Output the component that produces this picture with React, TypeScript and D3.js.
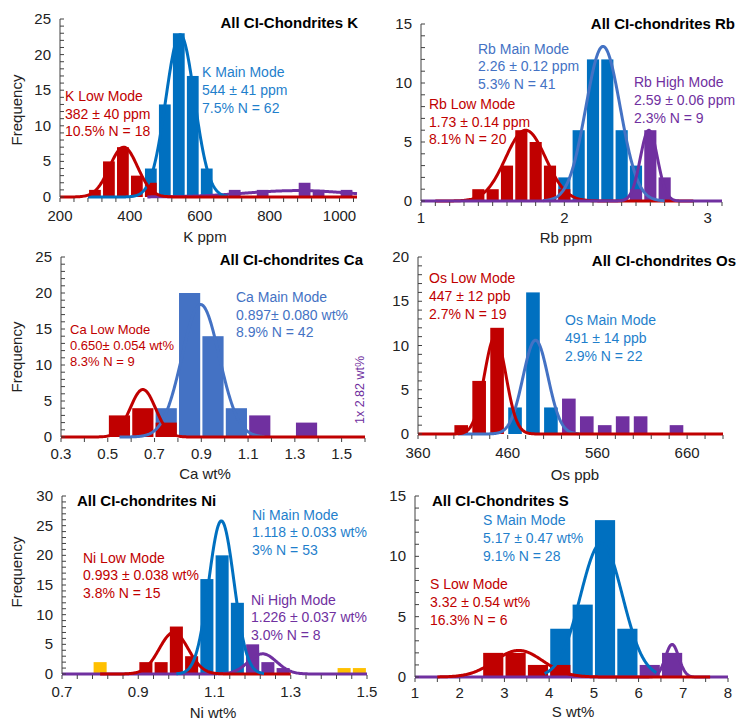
import React from 'react';
import * as d3 from 'd3';

const RED = '#C00000';
const BLUE = '#0070C0';
const LBLUE = '#4472C4';
const PURPLE = '#7030A0';
const YELLOW = '#FFC000';

// ---------- K ----------
const kBin = 40;
const kLowBars = [[280, 1], [320, 5], [360, 7], [400, 3], [440, 2]];
const kMainBars = [[440, 4], [480, 13], [520, 23], [560, 17], [600, 4]];
const kHighBars = [[680, 1], [760, 1], [880, 2], [920, 1], [1000, 1]];
const kXTicks = [200, 400, 600, 800, 1000];
const kYTicks = [0, 5, 10, 15, 20, 25];
const kLowLabel = ['K Low Mode', '382 ± 40 ppm', '10.5% N = 18'];
const kMainLabel = ['K Main Mode', '544 ± 41 ppm', '7.5% N = 62'];

// ---------- Rb ----------
const rbBin = 0.1;
const rbLowBars = [[1.35, 1], [1.45, 1], [1.55, 3], [1.65, 6], [1.75, 5], [1.85, 3], [1.95, 1]];
const rbMainBars = [[1.95, 2], [2.05, 6], [2.15, 12], [2.25, 12], [2.35, 6], [2.45, 3]];
const rbHighBars = [[2.45, 1], [2.55, 6], [2.65, 2]];
const rbXTicks = [1, 2, 3];
const rbYTicks = [0, 5, 10, 15];
const rbLowLabel = ['Rb Low Mode', '1.73 ± 0.14 ppm', '8.1% N = 20'];
const rbMainLabel = ['Rb Main Mode', '2.26 ± 0.12 ppm', '5.3% N = 41'];
const rbHighLabel = ['Rb High Mode', '2.59 ± 0.06 ppm', '2.3% N = 9'];

// ---------- Ca ----------
const caBin = 0.1;
const caLowBars = [[0.5, 3], [0.6, 4], [0.7, 2]];
const caMainBars = [[0.7, 4], [0.8, 20], [0.9, 14], [1.0, 4]];
const caHighBars = [[1.1, 3], [1.3, 2]];
const caXTicks = [0.3, 0.5, 0.7, 0.9, 1.1, 1.3, 1.5];
const caYTicks = [0, 5, 10, 15, 20, 25];
const caLowLabel = ['Ca Low Mode', '0.650± 0.054 wt%', '8.3% N = 9'];
const caMainLabel = ['Ca Main Mode', '0.897± 0.080 wt%', '8.9% N = 42'];
const caOutlierLabel = '1x 2.82 wt%';

// ---------- Os ----------
const osBin = 20;
const osLowBars = [[400, 1], [420, 6], [440, 12]];
const osMainBars = [[460, 3], [480, 16], [500, 3]];
const osHighBars = [[520, 4], [540, 2], [560, 1], [580, 2], [600, 2], [640, 1]];
const osXTicks = [360, 460, 560, 660];
const osYTicks = [0, 5, 10, 15, 20];
const osLowLabel = ['Os Low Mode', '447 ± 12 ppb', '2.7% N = 19'];
const osMainLabel = ['Os Main Mode', '491 ± 14 ppb', '2.9% N = 22'];

// ---------- Ni ----------
const niBin = 0.04;
const niOutBars = [[0.78, 2], [1.42, 1], [1.46, 1]];
const niLowBars = [[0.90, 2], [0.94, 2], [0.98, 8], [1.02, 3]];
const niMainBars = [[1.06, 16], [1.10, 20], [1.14, 12], [1.18, 4]];
const niHighBars = [[1.18, 5], [1.22, 2], [1.26, 1]];
const niXTicks = [0.7, 0.9, 1.1, 1.3, 1.5];
const niYTicks = [0, 5, 10, 15, 20, 25, 30];
const niLowLabel = ['Ni Low Mode', '0.993 ± 0.038 wt%', '3.8% N = 15'];
const niMainLabel = ['Ni Main Mode', '1.118 ± 0.033 wt%', '3% N = 53'];
const niHighLabel = ['Ni High Mode', '1.226 ± 0.037 wt%', '3.0% N = 8'];

// ---------- S ----------
const sBin = 0.5;
const sLowBars = [[2.5, 2], [3.0, 2], [3.5, 1], [4.0, 1]];
const sMainBars = [[4.0, 4], [4.5, 6], [5.0, 13], [5.5, 4]];
const sHighBars = [[6.0, 1], [6.5, 2]];
const sXTicks = [1, 2, 3, 4, 5, 6, 7, 8];
const sYTicks = [0, 5, 10, 15];
const sLowLabel = ['S Low Mode', '3.32 ± 0.54 wt%', '16.3% N = 6'];
const sMainLabel = ['S Main Mode', '5.17 ± 0.47 wt%', '9.1% N = 28'];

// Fitted normal curves: [mean, sd, peak height, from, to]
const kCurves = { low: [382, 40, 7.0, 200, 1050], main: [544, 41, 22.8, 280, 680], high: [880, 150, 0.9, 450, 1050] };
const rbCurves = { low: [1.73, 0.14, 6.0, 1.1, 2.9], main: [2.27, 0.12, 13.1, 1.85, 2.7], high: [2.59, 0.06, 6.0, 1.0, 3.1] };
const caCurves = { low: [0.65, 0.054, 6.6, 0.3, 1.6], main: [0.897, 0.08, 18.4, 0.55, 1.17] };
const osCurves = { low: [446, 12, 11.0, 360, 700], main: [491, 14, 10.6, 405, 540] };
const niCurves = { low: [0.993, 0.038, 7.0, 0.8, 1.3], main: [1.118, 0.033, 25.8, 1.0, 1.23], high: [1.226, 0.037, 3.4, 0.7, 1.5] };
const sCurves = { low: [3.32, 0.54, 2.2, 1.5, 7.6], main: [5.17, 0.47, 11.1, 3.9, 6.4], high: [6.75, 0.15, 2.7, 1.0, 8.0] };

const FONT = '"Liberation Sans", Arial, Helvetica, sans-serif';

type Bars = { data: number[][]; color: string };
type Curve = { p: number[]; color: string };
type Label = { lines: string[]; color: string; x: number; y: number; size: number; lh: number };

interface Cfg {
  xDomain: [number, number];
  xRange: [number, number];
  yMax: number;
  yBase: number;
  yTop: number;
  bin: number;
  barFrac?: number;
  tickOff: number;
  xTicks: number[];
  yTicks: number[];
  fmt: (v: number) => string;
  minorX: number;
  bars: Bars[];
  curves: Curve[];
  labels: Label[];
  title: { text: string; x: number; y: number; anchor: string };
  xLabel: { text: string; x: number; y: number };
  freq?: { x: number; y: number };
}

function Panel({ c }: { c: Cfg }) {
  const x = d3.scaleLinear().domain(c.xDomain).range(c.xRange);
  const y = d3.scaleLinear().domain([0, c.yMax]).range([c.yBase, c.yTop]);
  const line = d3.line<number[]>().x((d) => x(d[0])).y((d) => y(d[1]));
  const minorXs = d3.range(c.xDomain[0], c.xDomain[1] + 1e-9, c.minorX);
  const minorYs = d3.range(0, c.yMax + 1e-9, 1);
  const axisColor = '#404040';
  return (
    <g>
      {c.bars.map((b, bi) =>
        b.data.map(([s, n], i) => {
          const x0 = x(s);
          const x1 = x(s + c.bin);
          let w = x1 - x0 - 2.2;
          let xx = x0 + 1.1;
          if (c.barFrac) {
            w = (x1 - x0) * c.barFrac;
            xx = x0 + 0.5;
          }
          return <rect key={`${bi}-${i}`} x={xx} y={y(n)} width={w} height={c.yBase - y(n)} fill={b.color} />;
        })
      )}
      {c.curves.map((cv, i) => {
        const [m, sd, pk, from, to] = cv.p;
        const pts = d3.range(0, 301).map((k) => {
          const v = from + ((to - from) * k) / 300;
          return [v, pk * Math.exp(-0.5 * ((v - m) / sd) ** 2)];
        });
        return <path key={i} d={line(pts) || ''} fill="none" stroke={cv.color} strokeWidth={3} strokeLinejoin="round" />;
      })}
      <line x1={c.xRange[0]} x2={c.xRange[0]} y1={c.yBase} y2={c.yTop} stroke={axisColor} strokeWidth={1} />
      {minorYs.map((v) => (
        <line key={'y' + v} x1={c.xRange[0]} x2={c.xRange[0] + 4} y1={y(v)} y2={y(v)} stroke={axisColor} strokeWidth={1} />
      ))}
      {minorXs.map((v, i) => (
        <line key={'x' + i} x1={x(v)} x2={x(v)} y1={c.yBase + 1} y2={c.yBase + 5} stroke={axisColor} strokeWidth={1} />
      ))}
      {c.yTicks.map((v) => (
        <text key={'yt' + v} x={c.xRange[0] - 9} y={y(v) + 5} textAnchor="end" fontSize={15} fontFamily={FONT} fill="#222">
          {v}
        </text>
      ))}
      {c.xTicks.map((v) => (
        <text key={'xt' + v} x={x(v)} y={c.yBase + c.tickOff} textAnchor="middle" fontSize={15} fontFamily={FONT} fill="#222">
          {c.fmt(v)}
        </text>
      ))}
      <text x={c.xLabel.x} y={c.xLabel.y} textAnchor="middle" fontSize={15} fontFamily={FONT} fill="#222">
        {c.xLabel.text}
      </text>
      {c.freq && (
        <text transform={`translate(${c.freq.x},${c.freq.y}) rotate(-90)`} textAnchor="middle" fontSize={15} fontFamily={FONT} fill="#222">
          Frequency
        </text>
      )}
      <text x={c.title.x} y={c.title.y} textAnchor={c.title.anchor as any} fontSize={15} fontWeight="bold" fontFamily={FONT} fill="#000">
        {c.title.text}
      </text>
      {c.labels.map((l, i) => (
        <text key={'l' + i} fontSize={l.size} fontFamily={FONT} fill={l.color}>
          {l.lines.map((t, j) => (
            <tspan key={j} x={l.x} y={l.y + j * l.lh}>
              {t}
            </tspan>
          ))}
        </text>
      ))}
    </g>
  );
}

const f0 = (v: number) => String(v);
const f1 = (v: number) => v.toFixed(1);

export default function App() {
  const panels: Cfg[] = [
    {
      xDomain: [200, 1050], xRange: [60, 357], yMax: 25, yBase: 197, yTop: 19, bin: kBin, tickOff: 24,
      xTicks: kXTicks, yTicks: kYTicks, fmt: f0, minorX: 40,
      bars: [{ data: kHighBars, color: PURPLE }, { data: kMainBars, color: BLUE }, { data: kLowBars, color: RED }],
      curves: [{ p: kCurves.high, color: PURPLE }, { p: kCurves.main, color: BLUE }, { p: kCurves.low, color: RED }],
      labels: [
        { lines: kLowLabel, color: RED, x: 65, y: 101, size: 14, lh: 17.7 },
        { lines: kMainLabel, color: '#1F7FCC', x: 202, y: 77, size: 14, lh: 18 },
      ],
      title: { text: 'All CI-Chondrites K', x: 358, y: 28, anchor: 'end' },
      xLabel: { text: 'K ppm', x: 205, y: 242 },
      freq: { x: 22, y: 110 },
    },
    {
      xDomain: [1, 3.1], xRange: [421, 722], yMax: 15, yBase: 201, yTop: 24, bin: rbBin, tickOff: 22,
      xTicks: rbXTicks, yTicks: rbYTicks, fmt: f0, minorX: 0.1,
      bars: [{ data: rbMainBars, color: BLUE }, { data: rbLowBars, color: RED }, { data: rbHighBars, color: PURPLE }],
      curves: [{ p: rbCurves.low, color: RED }, { p: rbCurves.main, color: LBLUE }, { p: rbCurves.high, color: PURPLE }],
      labels: [
        { lines: rbMainLabel, color: LBLUE, x: 478, y: 53.5, size: 14, lh: 17.5 },
        { lines: rbLowLabel, color: RED, x: 429, y: 109, size: 14, lh: 17.7 },
        { lines: rbHighLabel, color: PURPLE, x: 634, y: 87, size: 14, lh: 17.8 },
      ],
      title: { text: 'All CI-chondrites Rb', x: 735, y: 29, anchor: 'end' },
      xLabel: { text: 'Rb ppm', x: 566, y: 243 },
    },
    {
      xDomain: [0.3, 1.6], xRange: [61, 365], yMax: 25, yBase: 437, yTop: 257, bin: caBin, tickOff: 22,
      xTicks: caXTicks, yTicks: caYTicks, fmt: f1, minorX: 0.1,
      bars: [{ data: caMainBars, color: LBLUE }, { data: caLowBars, color: RED }, { data: caHighBars, color: PURPLE }],
      curves: [{ p: caCurves.main, color: LBLUE }, { p: caCurves.low, color: RED }],
      labels: [
        { lines: caLowLabel, color: RED, x: 70, y: 334, size: 13, lh: 15.8 },
        { lines: caMainLabel, color: LBLUE, x: 236, y: 302, size: 14, lh: 17.5 },
      ],
      title: { text: 'All CI-chondrites Ca', x: 363, y: 265, anchor: 'end' },
      xLabel: { text: 'Ca wt%', x: 205, y: 479 },
      freq: { x: 22, y: 357 },
    },
    {
      xDomain: [360, 700], xRange: [418, 723], yMax: 20, yBase: 434, yTop: 257, bin: osBin, barFrac: 0.76, tickOff: 24,
      xTicks: osXTicks, yTicks: osYTicks, fmt: f0, minorX: 20,
      bars: [{ data: osLowBars, color: RED }, { data: osMainBars, color: BLUE }, { data: osHighBars, color: PURPLE }],
      curves: [{ p: osCurves.main, color: LBLUE }, { p: osCurves.low, color: RED }],
      labels: [
        { lines: osLowLabel, color: RED, x: 429, y: 283, size: 14, lh: 17.8 },
        { lines: osMainLabel, color: '#1F7FCC', x: 565, y: 325, size: 14, lh: 18 },
      ],
      title: { text: 'All CI-chondrites Os', x: 736, y: 266, anchor: 'end' },
      xLabel: { text: 'Os ppb', x: 575, y: 480 },
    },
    {
      xDomain: [0.7, 1.5], xRange: [62, 367], yMax: 30, yBase: 674, yTop: 496, bin: niBin, tickOff: 23,
      xTicks: niXTicks, yTicks: niYTicks, fmt: f1, minorX: 0.04,
      bars: [{ data: niOutBars, color: YELLOW }, { data: niMainBars, color: BLUE }, { data: niLowBars, color: RED }, { data: niHighBars, color: PURPLE }],
      curves: [{ p: niCurves.high, color: PURPLE }, { p: niCurves.low, color: RED }, { p: niCurves.main, color: BLUE }],
      labels: [
        { lines: niMainLabel, color: '#1F7FCC', x: 252, y: 519.5, size: 14, lh: 17.5 },
        { lines: niLowLabel, color: RED, x: 83, y: 562.5, size: 14, lh: 17.7 },
        { lines: niHighLabel, color: PURPLE, x: 251, y: 604.5, size: 14, lh: 17.8 },
      ],
      title: { text: 'All CI-chondrites Ni', x: 77, y: 506, anchor: 'start' },
      xLabel: { text: 'Ni wt%', x: 213, y: 718 },
      freq: { x: 22, y: 572 },
    },
    {
      xDomain: [1, 8], xRange: [415, 728], yMax: 15, yBase: 677, yTop: 496, bin: sBin, tickOff: 21,
      xTicks: sXTicks, yTicks: sYTicks, fmt: f0, minorX: 0.5,
      bars: [{ data: sMainBars, color: BLUE }, { data: sLowBars, color: RED }, { data: sHighBars, color: PURPLE }],
      curves: [{ p: sCurves.high, color: PURPLE }, { p: sCurves.low, color: RED }, { p: sCurves.main, color: BLUE }],
      labels: [
        { lines: sMainLabel, color: '#1F7FCC', x: 483, y: 524.5, size: 14, lh: 18.2 },
        { lines: sLowLabel, color: RED, x: 430, y: 589, size: 14, lh: 18 },
      ],
      title: { text: 'All CI-Chondrites S', x: 432, y: 506, anchor: 'start' },
      xLabel: { text: 'S wt%', x: 573, y: 717 },
    },
  ];
  return (
    <svg width={740} height={721} style={{ position: 'absolute', left: 0, top: 0, background: '#fff' }}>
      <rect x={0} y={0} width={740} height={721} fill="#fff" />
      {panels.map((p, i) => (
        <Panel key={i} c={p} />
      ))}
      <text transform="translate(364,390) rotate(-90)" textAnchor="middle" fontSize={12.5} fontFamily={FONT} fill={PURPLE}>
        {caOutlierLabel}
      </text>
    </svg>
  );
}
